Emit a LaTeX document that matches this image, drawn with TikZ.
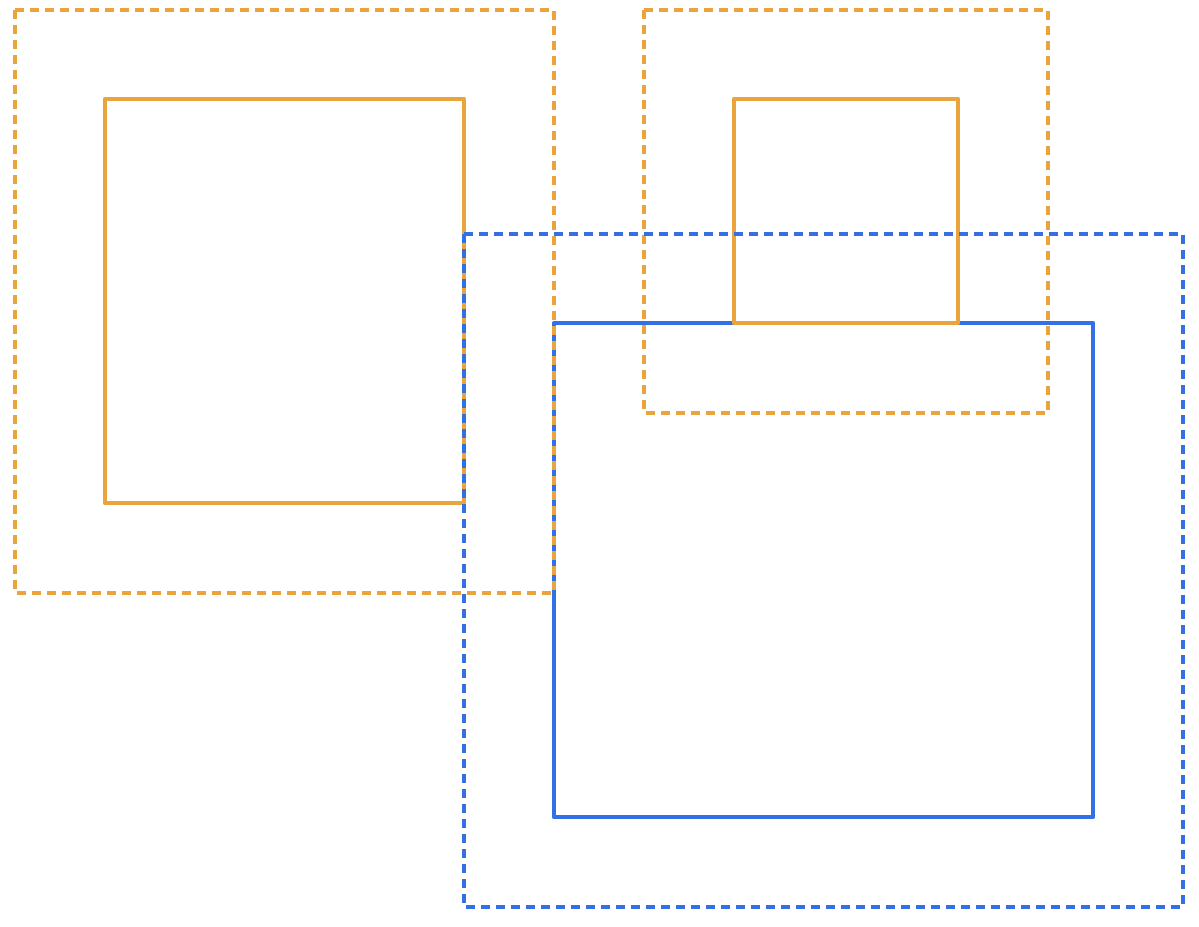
\documentclass[tikz,border=0pt]{standalone}
\definecolor{orng}{HTML}{E9A43E}
\definecolor{blu}{HTML}{3370E6}
\begin{document}
\begin{tikzpicture}[x=1bp,y=-1bp,
  solidbox/.style={line width=4.5bp,line join=round},
  dashbox/.style={line width=4.5bp,line join=round,dash pattern=on 9bp off 6bp}]
\useasboundingbox (0,0) rectangle (1199,927);
% blue solid
\draw[solidbox,blu] (554,323) rectangle (1093,817);
% orange solids
\draw[solidbox,orng] (105,99) rectangle (464,503);
\draw[solidbox,orng] (734,99) rectangle (958,323);
% orange dashed
\draw[dashbox,orng] (15,10) rectangle (554,593);
\draw[dashbox,orng] (644,10) rectangle (1048,413);
% blue dashed
\draw[dashbox,blu] (464,234) rectangle (1183,907);
\end{tikzpicture}
\end{document}
